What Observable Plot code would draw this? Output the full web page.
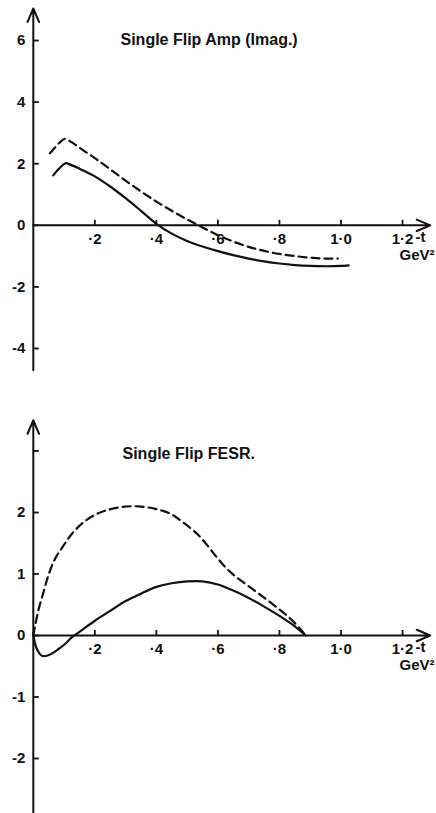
<!DOCTYPE html>
<html>
<head>
<meta charset="utf-8">
<script src="https://cdn.jsdelivr.net/npm/d3@7"></script>
<script src="https://cdn.jsdelivr.net/npm/@observablehq/plot@0.6"></script>
<style>
  html, body { margin: 0; padding: 0; background: #fff; }
  #chart svg { display: block; }
</style>
</head>
<body>
<div id="chart"></div>
<script>
// ---------- data ----------
// Panel 1: Single Flip Amp (Imag.)
const ampSolidT = [0.065, 0.08, 0.095, 0.106, 0.12, 0.15, 0.2, 0.25, 0.3, 0.35, 0.4, 0.45, 0.5, 0.55, 0.6, 0.65, 0.7, 0.75, 0.8, 0.85, 0.9, 0.95, 1.0, 1.025];
const ampSolidV = [1.62, 1.80, 1.95, 2.02, 1.97, 1.84, 1.59, 1.26, 0.88, 0.47, 0.05, -0.27, -0.51, -0.69, -0.84, -0.97, -1.08, -1.17, -1.24, -1.29, -1.32, -1.33, -1.32, -1.30];
const ampDashT = [0.054, 0.07, 0.085, 0.103, 0.118, 0.15, 0.2, 0.25, 0.3, 0.35, 0.4, 0.45, 0.5, 0.55, 0.6, 0.65, 0.7, 0.75, 0.8, 0.85, 0.9, 0.95, 0.99];
const ampDashV = [2.34, 2.52, 2.68, 2.81, 2.74, 2.52, 2.18, 1.82, 1.45, 1.1, 0.77, 0.47, 0.19, -0.07, -0.32, -0.53, -0.70, -0.83, -0.93, -1.0, -1.05, -1.08, -1.08];

// Panel 2: Single Flip FESR.
const fesrSolidT = [0, 0.006, 0.017, 0.028, 0.049, 0.082, 0.105, 0.125, 0.15, 0.2, 0.25, 0.3, 0.35, 0.4, 0.45, 0.5, 0.55, 0.6, 0.65, 0.7, 0.75, 0.8, 0.85, 0.885];
const fesrSolidV = [0.05, -0.14, -0.27, -0.33, -0.32, -0.22, -0.13, -0.03, 0.06, 0.24, 0.40, 0.56, 0.68, 0.79, 0.85, 0.88, 0.88, 0.83, 0.73, 0.61, 0.47, 0.32, 0.15, 0.0];
const fesrDashT = [0, 0.006, 0.017, 0.033, 0.049, 0.071, 0.098, 0.125, 0.158, 0.196, 0.234, 0.288, 0.342, 0.396, 0.446, 0.489, 0.533, 0.565, 0.598, 0.63, 0.662, 0.706, 0.749, 0.793, 0.836, 0.874, 0.885];
const fesrDashV = [0, 0.16, 0.42, 0.70, 0.98, 1.25, 1.46, 1.65, 1.82, 1.95, 2.03, 2.09, 2.10, 2.06, 1.98, 1.83, 1.65, 1.47, 1.26, 1.08, 0.94, 0.78, 0.62, 0.45, 0.27, 0.07, 0];

// axes / labels
const xTicks = [0.2, 0.4, 0.6, 0.8, 1.0, 1.2];
const ampYTicks = [6, 4, 2, 0, -2, -4];
const fesrYTicks = [3, 2, 1, 0, -1, -2];
const fesrYLabelled = [2, 1, 0, -1, -2];
const ampTitle = "Single Flip Amp (Imag.)";
const fesrTitle = "Single Flip FESR.";
const xVarLabel = "-t";
const xUnitLabel = "GeV²";
const ampYAxisSpan = [-4.71, 7.04];
const fesrYAxisSpan = [-2.89, 3.5];
const xAxisSpan = [0, 1.29];

// ---------- drawing ----------
const INK = "#111";
const FONT = "'Liberation Sans', Arial, Helvetica, sans-serif";
const fmtX = d => d3.format(".1f")(d).replace(/^0/, "").replace(".", "·");

function panel(o) {
  const W = 436, x0 = 32.8, xppu = 307.7, xMax = 1.3;
  const marginLeft = x0;
  const marginRight = W - (x0 + xMax * xppu);
  const marginTop = o.zeroPx - o.yMax * o.ppu;
  const frameBottom = o.zeroPx - o.yMin * o.ppu;
  const marginBottom = o.height - frameBottom;
  const frameRight = W - marginRight;
  const solid = o.solidT.map((t, i) => ({t, v: o.solidV[i]}));
  const dashed = o.dashT.map((t, i) => ({t, v: o.dashV[i]}));

  return Plot.plot({
    width: W,
    height: o.height,
    marginLeft, marginRight, marginTop, marginBottom,
    x: {domain: [0, xMax]},
    y: {domain: [o.yMin, o.yMax]},
    style: {fontFamily: FONT, fontWeight: "bold", fontSize: "15px", color: INK, background: "#fff", overflow: "visible"},
    marks: [
      // y tick labels (left)
      Plot.axisY({ticks: o.yTicks, anchor: "left", tickSize: 0, tickPadding: 8, tickFormat: o.yFormat, label: null, fontSize: 15}),
      // y tick marks, pointing right from the axis line
      Plot.axisY({ticks: o.yTicks, anchor: "right", dx: x0 - frameRight, tickSize: 5, tickFormat: () => "", label: null, strokeWidth: 1.8}),
      // x tick labels below the zero line
      Plot.axisX({ticks: xTicks, anchor: "bottom", dy: o.zeroPx - frameBottom, tickSize: 0, tickPadding: 8, tickFormat: fmtX, label: null, fontSize: 15}),
      // x tick marks, pointing up from the zero line
      Plot.axisX({ticks: xTicks, anchor: "top", dy: o.zeroPx - marginTop, tickSize: 6, tickFormat: () => "", label: null, strokeWidth: 1.8}),
      // axis lines with open arrow heads
      Plot.arrow([o.yAxisSpan], {x1: 0, x2: 0, y1: d => d[0], y2: d => d[1], stroke: INK, strokeWidth: 2, headLength: 11, headAngle: 46}),
      Plot.arrow([xAxisSpan], {x1: d => d[0], x2: d => d[1], y1: 0, y2: 0, stroke: INK, strokeWidth: 2, headLength: 11, headAngle: 46}),
      // curves
      Plot.line(dashed, {x: "t", y: "v", curve: o.curve, stroke: INK, strokeWidth: 2.2, strokeDasharray: "8,5"}),
      Plot.line(solid, {x: "t", y: "v", curve: o.curve, stroke: INK, strokeWidth: 2.2}),
      // axis variable / unit
      Plot.text([xVarLabel], {x: xTicks[xTicks.length - 1], y: 0, dx: 13, dy: 12, textAnchor: "start", lineAnchor: "middle", fontSize: 15, fill: INK}),
      Plot.text([xUnitLabel], {x: xTicks[xTicks.length - 1], y: 0, dx: -3, dy: o.unitDy, textAnchor: "start", lineAnchor: "middle", fontSize: 15, fill: INK}),
      // panel title
      Plot.text([o.title], {frameAnchor: "top-left", dx: o.titleX - x0, dy: o.titleY - marginTop, textAnchor: "start", lineAnchor: "middle", fontSize: 16, fill: INK})
    ]
  });
}

const chart = document.getElementById("chart");
chart.append(panel({
  height: 390, zeroPx: 224.8, ppu: 30.8, yMin: -5, yMax: 7.1, curve: "monotone-x",
  solidT: ampSolidT, solidV: ampSolidV, dashT: ampDashT, dashV: ampDashV,
  yTicks: ampYTicks, yFormat: d => String(d), yAxisSpan: ampYAxisSpan,
  title: ampTitle, titleX: 120, titleY: 39.5, unitDy: 30
}));
chart.append(panel({
  height: 423, zeroPx: 245, ppu: 61.5, yMin: -2.89, yMax: 3.6, curve: "catmull-rom",
  solidT: fesrSolidT, solidV: fesrSolidV, dashT: fesrDashT, dashV: fesrDashV,
  yTicks: fesrYTicks, yFormat: d => fesrYLabelled.includes(d) ? String(d) : "", yAxisSpan: fesrYAxisSpan,
  title: fesrTitle, titleX: 122, titleY: 63, unitDy: 30
}));
</script>
</body>
</html>
